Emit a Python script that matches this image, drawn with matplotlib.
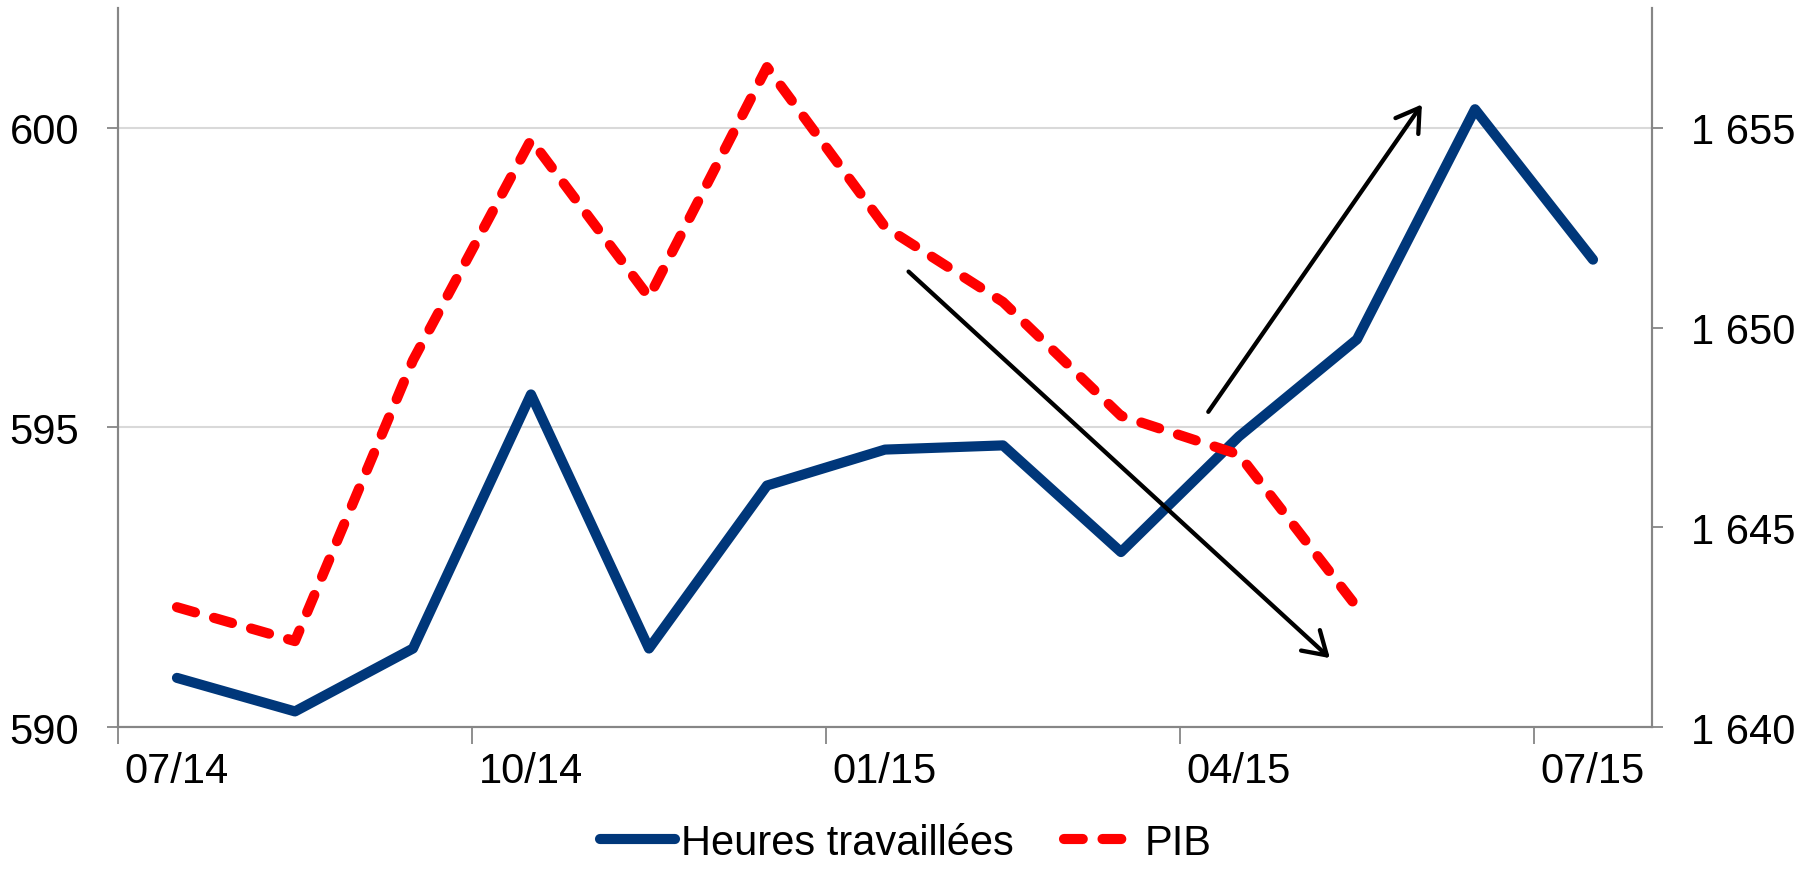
import matplotlib.pyplot as plt
import matplotlib.ticker as mticker
import numpy as np

plt.rcParams['font.family'] = ['Liberation Sans', 'DejaVu Sans']

months = ['07/14', '08/14', '09/14', '10/14', '11/14', '12/14', '01/15',
          '02/15', '03/15', '04/15', '05/15', '06/15', '07/15']
heures = [590.82, 590.26, 591.31, 595.55, 591.31, 594.03, 594.63,
          594.70, 592.92, 594.85, 596.47, 600.31, 597.80]
pib = [1643.0, 1642.15, 1649.18, 1654.70, 1650.76, 1656.52, 1652.52,
       1650.64, 1647.79, 1646.82, 1643.0, np.nan, np.nan]

# arrows, in (month index, left axis value)
arrow_down = [(6.20, 597.60), (9.77, 591.15)]
arrow_up = [(8.74, 595.26), (10.55, 600.39)]

grey = '#868686'
blue = '#00377A'
red = '#FF0000'

fig = plt.figure(figsize=(18.12, 8.7), dpi=100)
ax = fig.add_axes([0.0651, 0.1632, 0.9117 - 0.0651, 0.9897 - 0.1632])
ax2 = ax.twinx()

x = np.arange(len(months))
l1, = ax.plot(x, heures, color=blue, lw=7.3, solid_joinstyle='round',
              solid_capstyle='round', label='Heures travaillées', zorder=3)
l2, = ax2.plot(x, pib, color=red, lw=7.3, linestyle=(0, (1.85, 1.95)),
               dash_capstyle='round', dash_joinstyle='round', label='PIB', zorder=3)

ax.set_xlim(-0.5, 12.5)
ax.set_ylim(590, 602)
ax2.set_ylim(1640, 1658)

ax.set_yticks([590, 595, 600])
ax2.set_yticks([1640, 1645, 1650, 1655])
ax2.yaxis.set_major_formatter(mticker.FuncFormatter(
    lambda v, p: '{:,.0f}'.format(v).replace(',', ' ')))

ax.set_xticks(np.arange(-0.5, 12.5, 3))
ax.set_xticklabels([])
ax.set_xticks(x[::3], minor=True)
ax.set_xticklabels(months[::3], minor=True)
ax.tick_params(axis='x', which='major', length=12.5, width=1.3, color=grey)
ax.tick_params(axis='x', which='minor', length=0, pad=17, labelsize=30)

ax.tick_params(axis='y', length=8, width=1.3, color=grey, pad=20, labelsize=30)
ax2.tick_params(axis='y', length=8, width=1.3, color=grey, pad=20, labelsize=30)

ax.grid(True, axis='y', color='#D9D9D9', lw=1.5)
ax.set_axisbelow(True)

for a in (ax, ax2):
    a.spines['top'].set_visible(False)
    for s in ('left', 'right', 'bottom'):
        a.spines[s].set_color(grey)
        a.spines[s].set_linewidth(1.5)

for start, end in (arrow_down, arrow_up):
    ax2.annotate('', xy=end, xytext=start, xycoords=ax.transData,
                 textcoords=ax.transData,
                 arrowprops=dict(arrowstyle='->, head_length=0.4, head_width=0.25',
                                 color='black', lw=3.1, mutation_scale=40,
                                 shrinkA=0, shrinkB=0, capstyle='round',
                                 joinstyle='round'),
                 zorder=4)

fig.legend(handles=[l1, l2], loc='center', bbox_to_anchor=(0.5, 0.03),
           ncol=2, frameon=False, fontsize=30, handlelength=1.8,
           handletextpad=0.15, columnspacing=1.2, borderpad=0.1)

fig.savefig('out.png', dpi=100)
